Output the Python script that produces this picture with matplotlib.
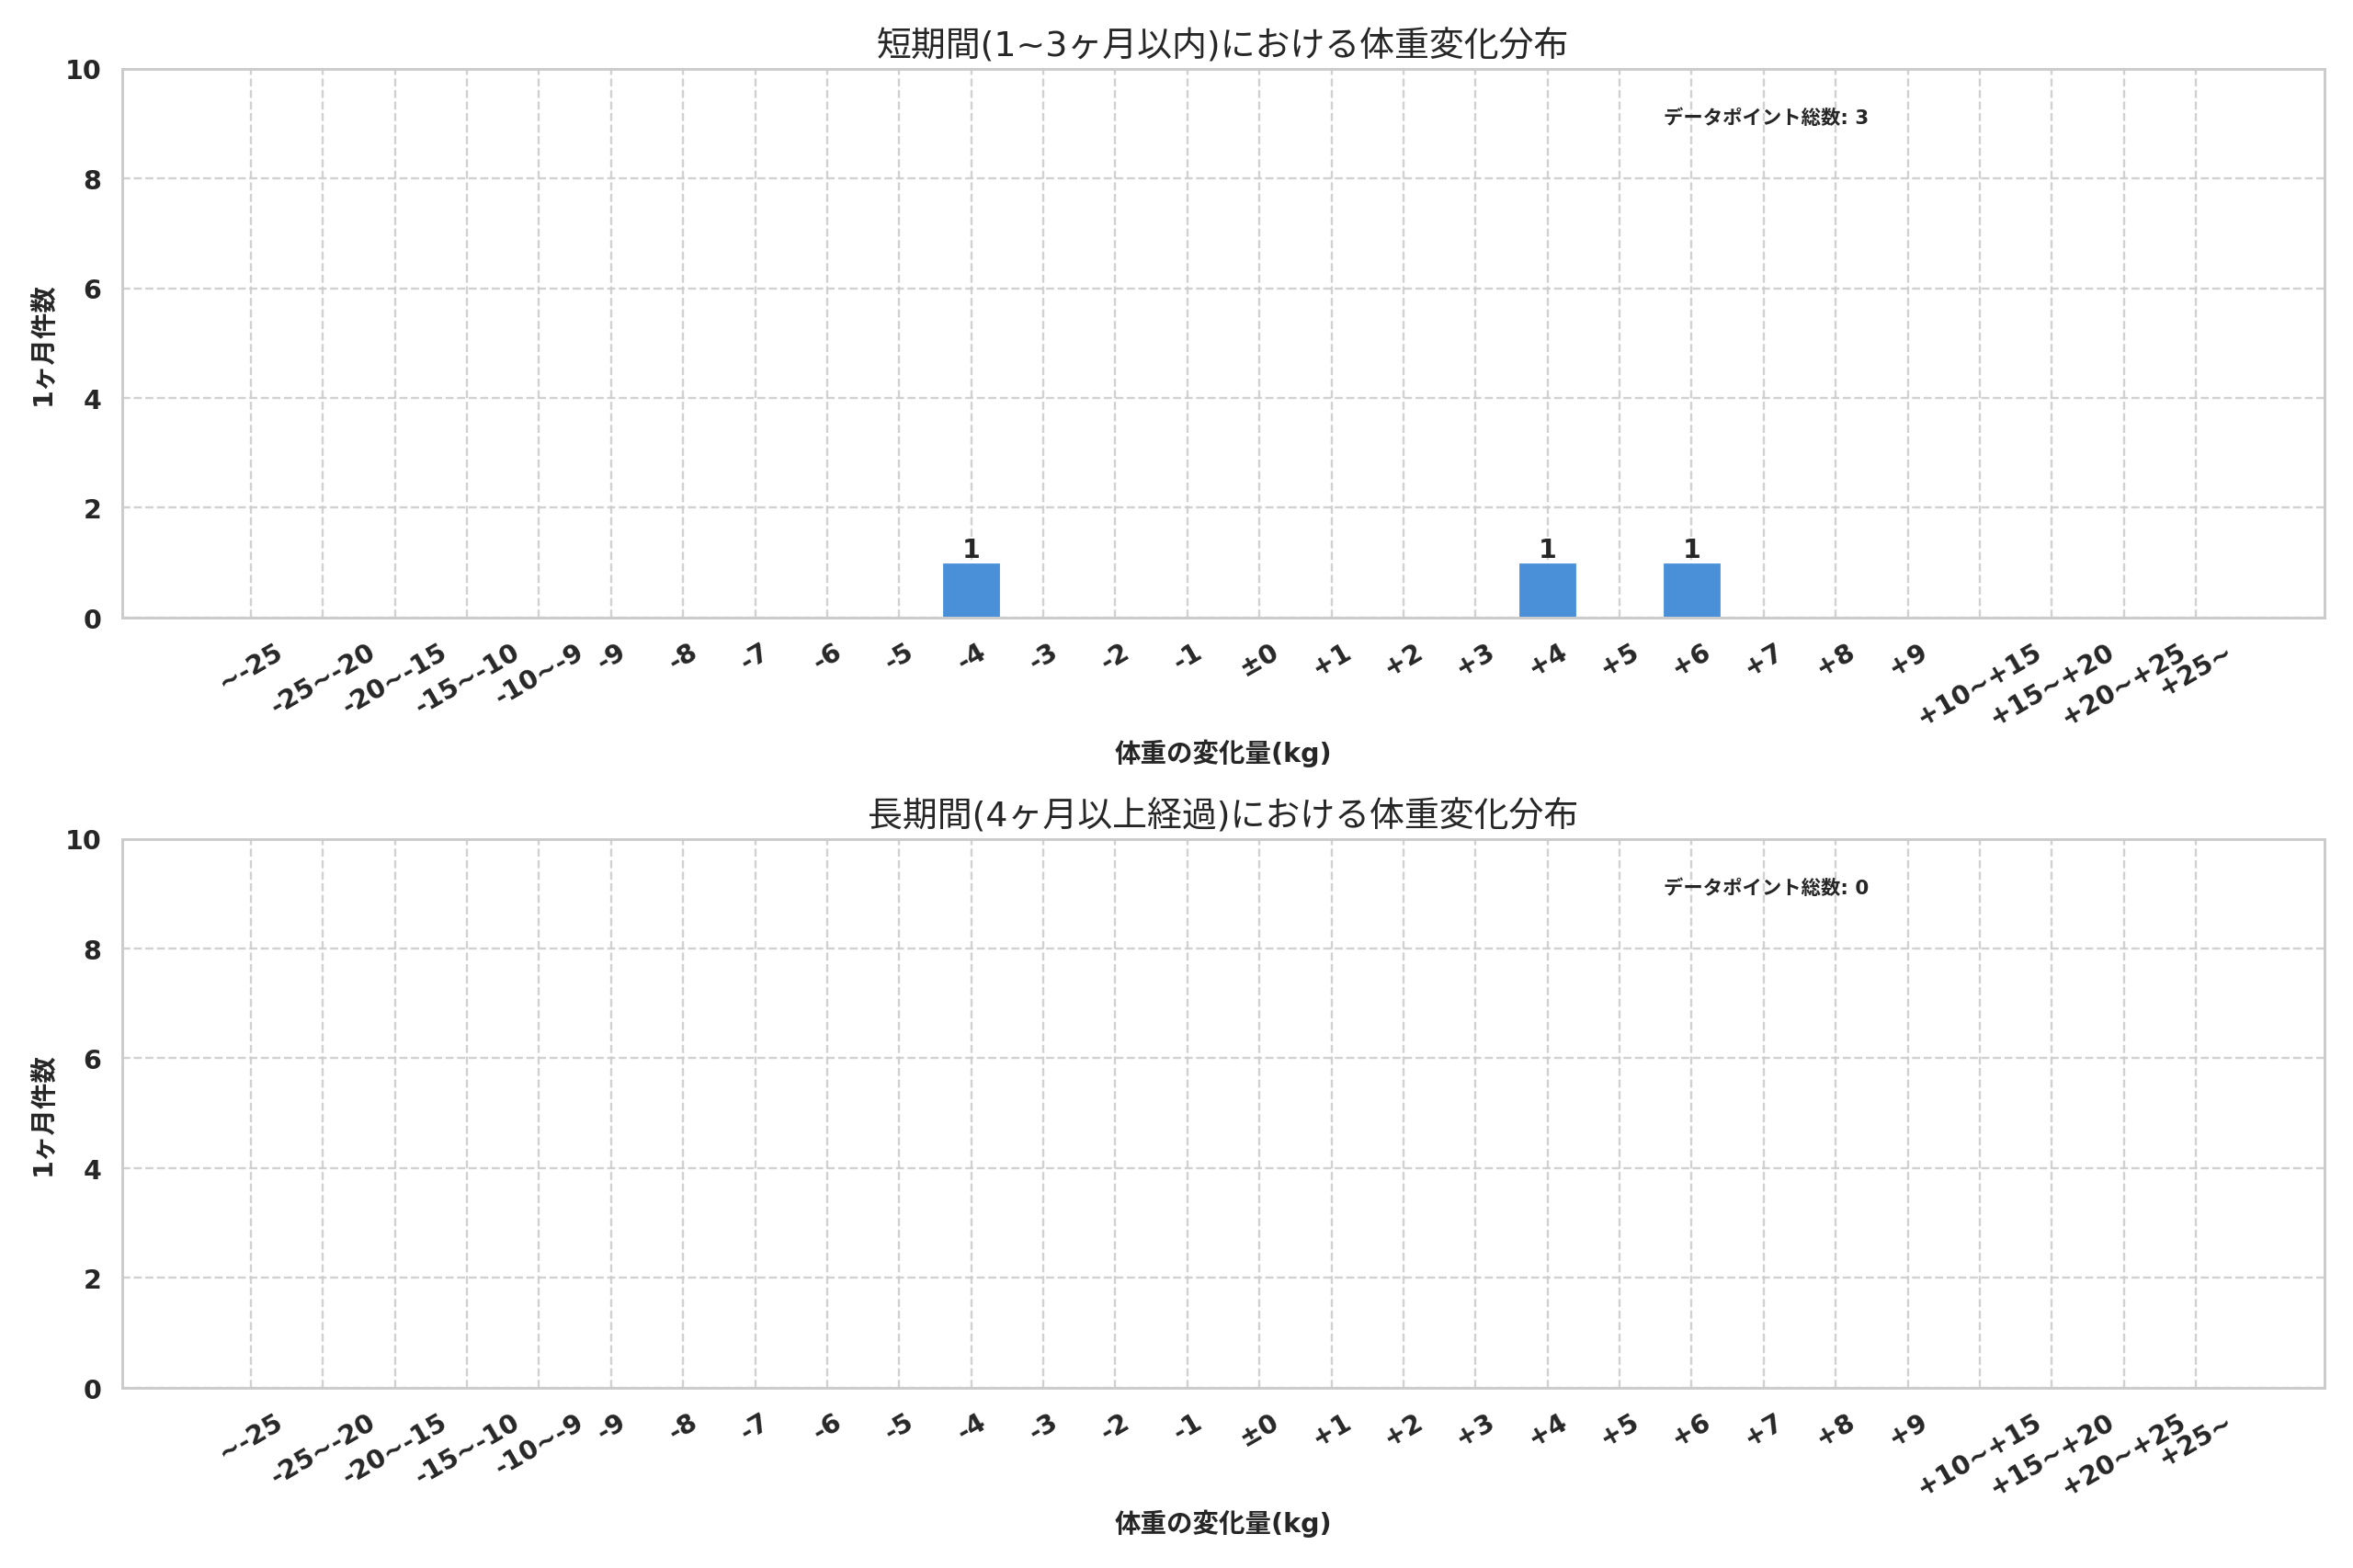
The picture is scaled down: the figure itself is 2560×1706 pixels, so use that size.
import numpy as np
import matplotlib
matplotlib.use("Agg")
import matplotlib.pyplot as plt
import seaborn as sns

# weight-change bins (kg)
categories = ['~-25', '-25~-20', '-20~-15', '-15~-10', '-10~-9',
              '-9', '-8', '-7', '-6', '-5', '-4', '-3', '-2', '-1', '±0',
              '+1', '+2', '+3', '+4', '+5', '+6', '+7', '+8', '+9',
              '+10~+15', '+15~+20', '+20~+25', '+25~']

# counts per bin
short_counts = [0, 0, 0, 0, 0,
                0, 0, 0, 0, 0, 1, 0, 0, 0, 0,
                0, 0, 0, 1, 0, 1, 0, 0, 0,
                0, 0, 0, 0]
long_counts = [0] * len(categories)

short_total = 3
long_total = 0

titles = ['短期間(1~3ヶ月以内)における体重変化分布',
          '長期間(4ヶ月以上経過)における体重変化分布']
xlabel = '体重の変化量(kg)'
ylabel = '1ヶ月件数'
total_label = 'データポイント総数'

sns.set_theme(style='whitegrid')
plt.rcParams['font.family'] = ['DejaVu Sans', 'Noto Sans CJK JP']
plt.rcParams['axes.unicode_minus'] = False

fig, axes = plt.subplots(2, 1, figsize=(15, 10))
bar_color = '#4a90d9'

for ax, counts, total, title in zip(axes, [short_counts, long_counts],
                                    [short_total, long_total], titles):
    x = np.arange(len(categories))
    bars = ax.bar(x, counts, width=0.8, color=bar_color, edgecolor='white', linewidth=0.5)
    for b, c in zip(bars, counts):
        if c > 0:
            ax.text(b.get_x() + b.get_width() / 2, b.get_height(), str(c),
                    ha='center', va='bottom', fontsize=12, fontweight='bold')
    ax.set_xticks(x)
    ax.set_xticklabels(categories, rotation=30, fontsize=12, fontweight='bold')
    ax.set_ylim(0, 10)
    ax.set_yticks(np.arange(0, 11, 2))
    for lab in ax.get_yticklabels():
        lab.set_fontweight('bold')
        lab.set_fontsize(12)
    ax.grid(True, linestyle='--', alpha=0.9)
    ax.set_title(title, fontsize=16)
    ax.set_xlabel(xlabel, fontsize=12, fontweight='bold')
    ax.set_ylabel(ylabel, fontsize=12, fontweight='bold')
    ax.text(0.7, 0.91, f'{total_label}: {total}', transform=ax.transAxes,
            fontsize=9, fontweight='bold', ha='left', va='center')

fig.tight_layout()
fig.savefig('out.png', dpi=2560 / 15)
